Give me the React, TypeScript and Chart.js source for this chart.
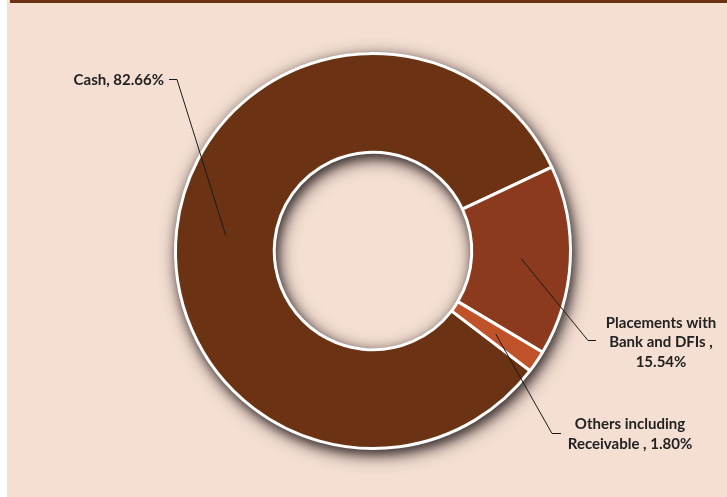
import React, { useEffect, useRef } from "react";
import { Chart, registerables } from "chart.js";

Chart.register(...registerables);

const categories = ["Cash", "Placements with Bank and DFIs", "Others including Receivable"];
const values = [82.66, 15.54, 1.8];
const sliceColors = ["#6B3214", "#8B3A1E", "#C0522A"];
const labelLines = [
  ["Cash, 82.66%"],
  ["Placements with", "Bank and DFIs ,", "15.54%"],
  ["Others including", "Receivable , 1.80%"],
];

const W = 727;
const H = 497;
const BG = "#F5DFD3";

const shadowPlugin = {
  id: "ringShadow",
  beforeDatasetsDraw(chart: any) {
    const arc = chart.getDatasetMeta(0).data[0];
    if (!arc) return;
    const { x, y, outerRadius, innerRadius } = arc.getProps(["x", "y", "outerRadius", "innerRadius"], true);
    const ctx = chart.ctx;
    const passes = [
      { blur: 18, ox: 3, oy: 5, c: "rgba(40,30,30,0.8)" },
      { blur: 10, ox: 2, oy: 4, c: "rgba(40,30,30,0.6)" },
    ];
    passes.forEach((p) => {
      ctx.save();
      ctx.shadowColor = p.c;
      ctx.shadowBlur = p.blur;
      ctx.shadowOffsetX = p.ox;
      ctx.shadowOffsetY = p.oy;
      ctx.beginPath();
      ctx.arc(x, y, outerRadius + 1, 0, Math.PI * 2);
      ctx.arc(x, y, innerRadius - 1, 0, Math.PI * 2, true);
      ctx.closePath();
      ctx.fillStyle = sliceColors[0];
      ctx.fill("evenodd");
      ctx.restore();
    });
  },
};

const labelPlugin = {
  id: "leaderLabels",
  afterDatasetsDraw(chart: any) {
    const meta = chart.getDatasetMeta(0);
    const ctx = chart.ctx;
    ctx.save();
    ctx.font = "bold 15px Lato, 'Open Sans', sans-serif";
    ctx.fillStyle = "#222222";
    ctx.strokeStyle = "#1a1a1a";
    ctx.lineWidth = 1;
    ctx.textBaseline = "middle";

    const anchors = meta.data.map((el: any) => el.getCenterPoint());

    // Cash
    ctx.beginPath();
    ctx.moveTo(169, 79.5);
    ctx.lineTo(177, 79.5);
    ctx.lineTo(anchors[0].x, anchors[0].y);
    ctx.stroke();
    ctx.textAlign = "right";
    ctx.fillText(labelLines[0][0], 164, 80);

    // Placements
    ctx.beginPath();
    ctx.moveTo(anchors[1].x, anchors[1].y);
    ctx.lineTo(588, 340.5);
    ctx.lineTo(596, 340.5);
    ctx.stroke();
    ctx.textAlign = "center";
    labelLines[1].forEach((t, i) => ctx.fillText(t, 661, 323 + i * 19.5));

    // Others
    ctx.beginPath();
    ctx.moveTo(anchors[2].x, anchors[2].y);
    ctx.lineTo(552, 433.5);
    ctx.lineTo(561, 433.5);
    ctx.stroke();
    labelLines[2].forEach((t, i) => ctx.fillText(t, 630, 424 + i * 20));

    ctx.restore();
  },
};

export default function App() {
  const ref = useRef<HTMLCanvasElement | null>(null);

  useEffect(() => {
    document.body.style.margin = "0";
    const canvas = ref.current;
    if (!canvas) return;
    const chart = new Chart(canvas, {
      type: "doughnut",
      data: {
        labels: categories,
        datasets: [
          {
            data: values,
            backgroundColor: sliceColors,
            borderColor: "#FFFFFF",
            borderWidth: 3,
            hoverOffset: 0,
          },
        ],
      },
      options: {
        responsive: false,
        animation: false,
        cutout: "50%",
        rotation: 127.3,
        layout: { padding: { left: 174, right: 155, top: 52, bottom: 47 } },
        plugins: {
          legend: { display: false },
          tooltip: { enabled: false },
        },
      },
      plugins: [shadowPlugin, labelPlugin],
    });
    return () => chart.destroy();
  }, []);

  return (
    <div style={{ position: "relative", width: W, height: H, background: "#FFFFFF", overflow: "hidden" }}>
      <div style={{ position: "absolute", left: 7, top: 0, right: 0, bottom: 0, background: BG }} />
      <div style={{ position: "absolute", left: 10, top: 0, right: 0, height: 2.5, background: "#6B3214" }} />
      <canvas ref={ref} width={W} height={H} style={{ position: "absolute", left: 0, top: 0 }} />
    </div>
  );
}
